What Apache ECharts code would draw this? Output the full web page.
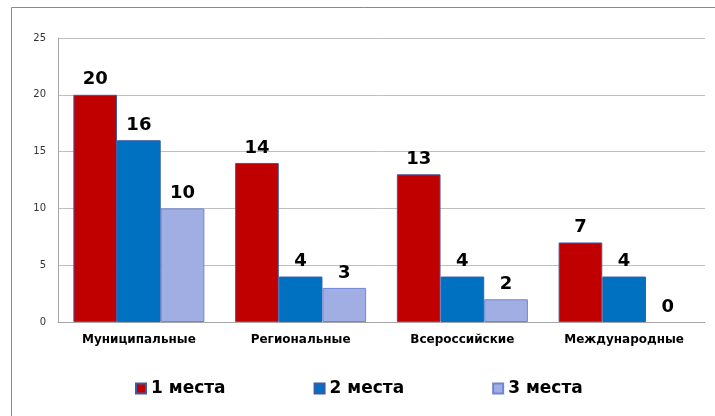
<!DOCTYPE html>
<html>
<head>
<meta charset="utf-8">
<script src="https://cdn.jsdelivr.net/npm/echarts@6/dist/echarts.min.js"></script>
<style>html,body{margin:0;padding:0;background:#fff;}#c{width:715px;height:416px;}</style>
</head>
<body>
<div id="c"></div>
<script>
const categories = ['Муниципальные', 'Региональные', 'Всероссийские', 'Международные'];
const seriesNames = ['1 места', '2 места', '3 места'];
const first = [20, 14, 13, 7];
const second = [16, 4, 4, 4];
const third = [10, 3, 2, 0];
const yTicks = {min: 0, max: 25, interval: 5};

const colors = ['#C00000', '#0070C0', '#A0AEE3'];
const borders = ['#3b5aa8', '#3b5aa8', '#6f86d4'];
const values = [first, second, third];

const chart = echarts.init(document.getElementById('c'));
chart.setOption({
  animation: false,
  backgroundColor: '#fff',
  graphic: [{
    type: 'polyline',
    shape: {points: [[11.5, 416], [11.5, 7.5], [715, 7.5]]},
    style: {stroke: '#8a8a8a', lineWidth: 1, fill: null}
  }],
  grid: {left: 58, right: 10, top: 38, bottom: 94},
  legend: {
    data: seriesNames,
    left: 130, top: 375,
    itemWidth: 10, itemHeight: 10, itemGap: 88,
    icon: 'rect',
    textStyle: {fontFamily: 'DejaVu Sans', fontWeight: 'bold', fontSize: 17, color: '#000'}
  },
  xAxis: {
    type: 'category',
    data: categories,
    axisLine: {lineStyle: {color: '#a6a6a6'}},
    axisTick: {show: false},
    axisLabel: {fontFamily: 'DejaVu Sans', fontWeight: 'bold', fontSize: 12, color: '#000', margin: 12}
  },
  yAxis: {
    type: 'value',
    min: yTicks.min, max: yTicks.max, interval: yTicks.interval,
    axisLine: {show: true, lineStyle: {color: '#a6a6a6'}},
    axisTick: {show: false},
    splitLine: {lineStyle: {color: '#bfbfbf', width: 1}},
    axisLabel: {fontFamily: 'DejaVu Sans', fontSize: 10, color: '#333', margin: 12}
  },
  series: seriesNames.map((n, i) => ({
    name: n,
    type: 'bar',
    data: values[i].map(v => v === 0 ? {value: v, itemStyle: {borderWidth: 0}} : v),
    barGap: '0%',
    barCategoryGap: '19%',
    itemStyle: {color: colors[i], borderColor: borders[i], borderWidth: 1},
    label: {show: true, position: 'top', distance: 6, fontFamily: 'DejaVu Sans', fontWeight: 'bold', fontSize: 18, color: '#000'}
  }))
});
</script>
</body>
</html>
